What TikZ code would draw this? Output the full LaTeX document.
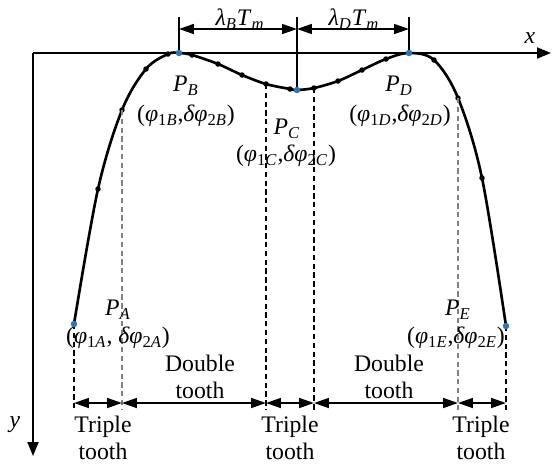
\documentclass[tikz,border=0pt]{standalone}
\usepackage{fontspec}
\setmainfont{Liberation Serif}
\usetikzlibrary{arrows.meta, positioning}
\definecolor{ptblue}{HTML}{2E75B6}
\newcommand\pnt[1]{\textit{P}\textsubscript{\textit{#1}}}
\newcommand\crd[3]{(\textit{φ}\textsubscript{1\textit{#1}},#3\textit{δφ}\textsubscript{2\textit{#2}})}
\tikzset{
  axis/.style={line width=1.1pt, -{Triangle[length=2.8mm, width=2.2mm]}},
  curve/.style={line width=1.5pt},
  dimln/.style={line width=1pt, {Triangle[length=3mm, width=2mm]}-{Triangle[length=3mm, width=2mm]}},
  tick/.style={line width=0.9pt},
  guide/.style={line width=0.7pt, dash pattern=on 3pt off 2pt},
  guidegray/.style={guide, gray},
  pt/.style={circle, fill=ptblue, inner sep=0pt, minimum size=1.3mm},
  dot/.style={circle, fill=black, inner sep=0pt, minimum size=1.1mm},
  lbl/.style={font=\fontsize{13.5}{15.3}\selectfont, align=center, inner sep=0pt},
}

\begin{document}
\begin{tikzpicture}[x=0.02cm, y=-0.02cm]
  \useasboundingbox (0,0) rectangle (552,468);
  % axes
  \coordinate (O) at (33,53);
  \coordinate (xend) at (551,53);
  \coordinate (yend) at (33,456);
  \draw[axis] (O) -- (xend);
  \draw[axis] (O) -- (yend);
  \node[lbl] (xl) at (530,38) {\textit{x}};
  \node[lbl] (yl) at (15,425) {\textit{y}};
  % curve points
  \coordinate (A) at (74,324);
  \coordinate (B) at (179,53);
  \coordinate (C) at (297,90);
  \coordinate (D) at (409,53);
  \coordinate (E) at (506,326);
  \foreach \n/\x/\y in {1/98/189, 2/122/110, 3/146/69, 4/168/54, 5/192/55,
      6/218/64, 7/242/75, 8/266/84, 9/290/89, 10/314/88, 11/338/81,
      12/362/70, 13/386/59, 14/434/60, 15/458/98, 16/482/178}
    \coordinate (d\n) at (\x,\y);
  \draw[curve] plot[smooth, tension=0.55] coordinates {(A) (d1) (d2) (d3) (d4) (B)
      (d5) (d6) (d7) (d8) (d9) (C) (d10) (d11) (d12) (d13) (D) (d14) (d15) (d16) (E)};
  \foreach \n in {1,...,16}
    \node[dot] at (d\n) {};
  % top dimensions
  \foreach \n/\x in {1/179, 2/297, 3/409} {
    \coordinate (t\n) at (\x,17);
    \coordinate (m\n) at (\x,29);
  }
  \draw[tick] (B) -- (t1);
  \draw[tick] (C) -- (t2);
  \draw[tick] (D) -- (t3);
  \draw[dimln] (m1) -- (m2);
  \draw[dimln] (m2) -- (m3);
  \node[lbl] (lamB) at (240,19) {\textit{λ}\textsubscript{\textit{B}}\textit{T}\textsubscript{\textit{m}}};
  \node[lbl] (lamD) at (354,19) {\textit{λ}\textsubscript{\textit{D}}\textit{T}\textsubscript{\textit{m}}};
  % guide lines and bottom dimensions
  \foreach \n/\x in {1/74, 2/122, 3/266, 4/314, 5/458, 6/506} {
    \coordinate (a\n) at (\x,403);
    \coordinate (g\n) at (\x,410);
  }
  \draw[guide] (A) -- (g1);
  \draw[guidegray] (d2) -- (g2);
  \draw[guide] (d8) -- (g3);
  \draw[guide] (d10) -- (g4);
  \draw[guidegray] (d15) -- (g5);
  \draw[guide] (E) -- (g6);
  \draw[dimln] (a1) -- (a2);
  \draw[dimln] (a2) -- (a3);
  \draw[dimln] (a3) -- (a4);
  \draw[dimln] (a4) -- (a5);
  \draw[dimln] (a5) -- (a6);
  % points
  \foreach \p in {A,B,C,D,E}
    \node[pt] at (\p) {};
  \node[lbl] (pB) at (186,86) {\pnt{B}};
  \node[lbl] (cB) at (186,116) {\crd{B}{B}{}};
  \node[lbl] (pC) at (287,129) {\pnt{C}};
  \node[lbl] (cC) at (286,156) {\crd{C}{C}{}};
  \node[lbl] (pD) at (399,86) {\pnt{D}};
  \node[lbl] (cD) at (400,116) {\crd{D}{D}{}};
  \node[lbl] (pA) at (118,310) {\pnt{A}};
  \node[lbl] (cA) at (118,338) {\crd{A}{A}{ }};
  \node[lbl] (pE) at (458,310) {\pnt{E}};
  \node[lbl] (cE) at (456,338) {\crd{E}{E}{}};
  % regions
  \node[lbl] (dbl1) at (200,377) {Double\\tooth};
  \node[lbl] (dbl2) at (389,377) {Double\\tooth};
  \node[lbl] (tri1) at (103,438) {Triple\\tooth};
  \node[lbl] (tri2) at (290,438) {Triple\\tooth};
  \node[lbl] (tri3) at (481,438) {Triple\\tooth};
\end{tikzpicture}
\end{document}
